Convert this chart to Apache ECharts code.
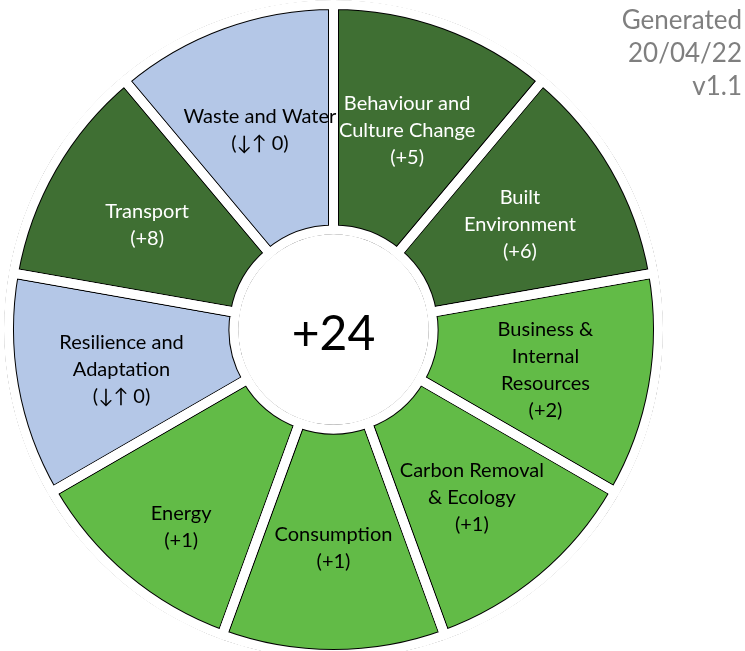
<!DOCTYPE html>
<html>
<head>
<meta charset="utf-8">
<script src="https://cdn.jsdelivr.net/npm/echarts@6/dist/echarts.min.js"></script>
<style>
  html, body { margin: 0; padding: 0; background: #fff; }
  #chart-wrapper { width: 745px; height: 651px; }
</style>
</head>
<body>
<div id="chart-wrapper"></div>
<script>
'use strict'

// themes, clockwise from the top
var categories = ['Behaviour and\nCulture Change', 'Built\nEnvironment', 'Business &\nInternal\nResources',
    'Carbon Removal\n& Ecology', 'Consumption', 'Energy', 'Resilience and\nAdaptation', 'Transport', 'Waste and Water'];
var scores = [5, 6, 2, 1, 1, 1, 0, 8, 0];
var stamp = ['Generated', '20/04/22', 'v1.1'];

var total = scores.reduce(function (a, b) { return a + b; }, 0);
var font = 'Lato, "Open Sans", "DejaVu Sans", sans-serif';
var cx = 333.5, cy = 329.5;
var rIn = 99.5, rOut = 325;

// the Energy label sits lower than the others in the original
var labelShift = { 'Energy': [-14, 33] };

function fillFor(s) {
    if (s >= 5) return '#3f6f33';
    if (s > 0) return '#62bb47';
    return '#b4c7e7';
}

var slices = categories.map(function (name, i) {
    var s = scores[i];
    return {
        name: name,
        value: 1,
        score: s,
        itemStyle: { color: fillFor(s) },
        label: { color: s >= 5 ? '#fff' : '#000', offset: labelShift[name] || [0, 3] }
    };
});
var covers = categories.map(function (name) { return { name: name, value: 1 }; });

var stampText = stamp.map(function (t, i) {
    return {
        type: 'text',
        right: 3,
        top: 8 + i * 33,
        z: 100,
        style: { text: t, fill: '#7f7f7f', font: '26px ' + font }
    };
});

var myChart = echarts.init(document.getElementById('chart-wrapper'));
var option = {
    animation: false,
    graphic: stampText,
    series: [
        {
            // coloured slices with black outline
            type: 'pie',
            center: [cx, cy],
            radius: [rIn, rOut],
            startAngle: 90,
            silent: true,
            emphasis: { scale: false },
            itemStyle: { borderColor: '#000', borderWidth: 11 },
            label: {
                show: true,
                position: 'inside',
                fontFamily: font,
                fontSize: 20,
                lineHeight: 27,
                formatter: function (p) {
                    var s = p.data.score;
                    return p.name + '\n' + (s > 0 ? '(+' + s + ')' : '(\u2193\u2191 0)');
                }
            },
            labelLine: { show: false },
            data: slices
        },
        {
            // white gaps between the slices
            type: 'pie',
            center: [cx, cy],
            radius: [rIn, rOut],
            startAngle: 90,
            silent: true,
            emphasis: { scale: false },
            itemStyle: { color: 'rgba(0,0,0,0)', borderColor: '#fff', borderWidth: 9 },
            label: { show: false },
            labelLine: { show: false },
            data: covers
        },
        {
            type: 'pie',
            center: [cx, cy],
            radius: [rOut + 4.2, rOut + 40],
            silent: true,
            emphasis: { scale: false },
            itemStyle: { color: '#fff' },
            label: { show: false },
            labelLine: { show: false },
            data: [{ value: 1, name: 'outer' }]
        },
        {
            // centre disc with the total
            type: 'pie',
            center: [cx, cy],
            radius: [0, rIn - 4.2],
            silent: true,
            emphasis: { scale: false },
            itemStyle: { color: '#fff' },
            label: {
                show: true,
                position: 'center',
                fontFamily: font,
                fontSize: 48,
                color: '#000',
                offset: [0, 5],
                formatter: function () { return (total > 0 ? '+' : '') + total; }
            },
            labelLine: { show: false },
            data: [{ value: 1, name: 'total' }]
        }
    ]
};
myChart.setOption(option);
</script>
</body>
</html>
